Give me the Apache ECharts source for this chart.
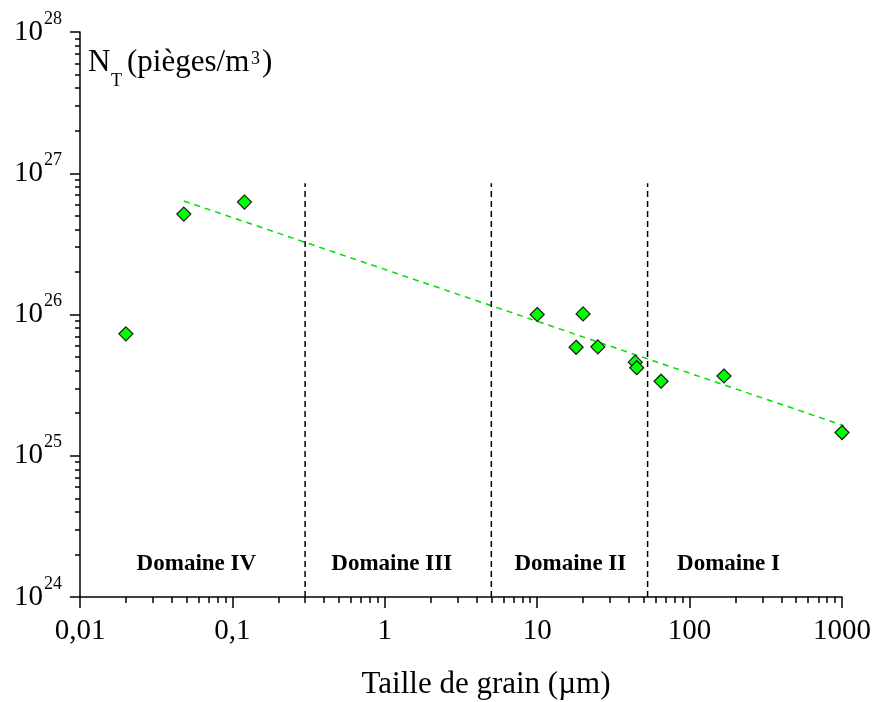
<!DOCTYPE html>
<html>
<head>
<meta charset="utf-8">
<script src="https://cdn.jsdelivr.net/npm/echarts@6/dist/echarts.min.js"></script>
<style>
  html, body { margin: 0; padding: 0; background: #fff; }
  #chart { width: 875px; height: 702px; }
</style>
</head>
<body>
<div id="chart"></div>
<script>
// grain size (µm) and trap density (traps/m3)
const grainSize = [0.02, 0.048, 0.12, 10, 20, 18, 25, 44, 45, 65, 168, 1000]
const trapDensity = [7.3e25, 5.14e26, 6.25e26, 1.0e26, 1.01e26, 5.86e25, 5.9e25, 4.6e25, 4.2e25, 3.37e25, 3.67e25, 1.46e25]
// fitted line ends
const fitX = [0.048, 1320]
const fitY = [6.36e26, 1.49e25]
// domain boundaries
const boundaryX = [0.3, 5, 53]
const boundaryY = [1e24, 8.5e26]
const domainNames = ['Domaine IV', 'Domaine III', 'Domaine II', 'Domaine I']
const domainX = [0.058, 1.11, 16.5, 180]
const domainY = 1.7e24
// ticks
const xTickExponents = [-2, -1, 0, 1, 2, 3]
const xTickLabels = ['0,01', '0,1', '1', '10', '100', '1000']
const yTickExponents = [24, 25, 26, 27, 28]
const minorSteps = [2, 3, 4, 5, 6, 7, 8, 9]

const FONT = '"Liberation Serif", "Times New Roman", serif'

function minorValues(exps) {
  let out = []
  exps.slice(0, -1).forEach(e => {
    minorSteps.forEach(s => out.push(s * Math.pow(10, e)))
  })
  return out
}

// text placed by its baseline (zrender has no alphabetic baseline)
function baseText(str, x, baseline, size, align) {
  return {
    type: 'text', x: x, y: baseline - 0.34 * size,
    style: { text: str, font: size + 'px ' + FONT, fill: '#000', align: align || 'left', verticalAlign: 'middle' }
  }
}

const axisLine = { lineStyle: { color: '#000', width: 1.5 } }
const yRange = { type: 'log', logBase: 10, min: 1e24, max: 1e28, position: 'left' }

const chart = echarts.init(document.getElementById('chart'))

let series = [
  {
    type: 'line',
    data: fitX.map((x, i) => [x, fitY[i]]),
    symbol: 'none',
    clip: false,
    lineStyle: { color: '#00dd00', width: 1.5, type: [6, 5] },
    z: 2
  },
  {
    type: 'scatter',
    data: grainSize.map((x, i) => [x, trapDensity[i]]),
    symbol: 'diamond',
    symbolSize: 14,
    itemStyle: { color: '#00ff00', borderColor: '#1a1a1a', borderWidth: 1.2, opacity: 1 },
    z: 5
  },
  {
    // domain names, anchored in data space
    type: 'scatter',
    data: domainNames.map((n, i) => ({ name: n, value: [domainX[i], domainY] })),
    symbolSize: 1,
    itemStyle: { color: 'rgba(0,0,0,0)', opacity: 1 },
    label: {
      show: true,
      position: 'inside',
      formatter: p => p.name,
      fontFamily: FONT,
      fontWeight: 'bold',
      fontSize: 23,
      color: '#000',
      textBorderWidth: 0
    },
    z: 4
  }
]
boundaryX.forEach(x => {
  series.push({
    type: 'line',
    data: boundaryY.map(y => [x, y]),
    symbol: 'none',
    lineStyle: { color: '#000', width: 1.5, type: [6, 4] },
    z: 3
  })
})

chart.setOption({
  animation: false,
  grid: { left: 80, right: 33, top: 32, bottom: 105, outerBoundsMode: 'none' },
  xAxis: [
    {
      type: 'log', logBase: 10, min: 0.01, max: 1000,
      axisLine,
      axisTick: { length: 11, lineStyle: { color: '#000', width: 1.5 } },
      splitLine: { show: false },
      axisLabel: {
        margin: 20,
        color: '#000',
        fontFamily: FONT,
        fontSize: 29,
        formatter: v => xTickLabels[xTickExponents.indexOf(Math.round(Math.log10(v)))]
      }
    },
    {
      type: 'log', logBase: 10, min: 0.01, max: 1000, position: 'bottom',
      axisLine: { show: false },
      axisTick: { length: 6, customValues: minorValues(xTickExponents), lineStyle: { color: '#000', width: 1.5 } },
      axisLabel: { show: false },
      splitLine: { show: false }
    }
  ],
  yAxis: [
    {
      ...yRange,
      axisLine,
      axisTick: { length: 10, lineStyle: { color: '#000', width: 1.5 } },
      splitLine: { show: false },
      // mantissa "10"
      axisLabel: {
        margin: 37,
        color: '#000',
        fontFamily: FONT,
        fontSize: 29,
        formatter: () => '10'
      }
    },
    {
      ...yRange,
      axisLine: { show: false },
      axisTick: { length: 5, customValues: minorValues(yTickExponents), lineStyle: { color: '#000', width: 1.5 } },
      axisLabel: { show: false },
      splitLine: { show: false }
    },
    {
      // exponents, raised as superscripts
      ...yRange,
      axisLine: { show: false },
      axisTick: { show: false },
      splitLine: { show: false },
      axisLabel: {
        margin: 18,
        color: '#000',
        fontFamily: FONT,
        fontSize: 18,
        lineHeight: 26,
        verticalAlign: 'bottom',
        formatter: v => String(yTickExponents[yTickExponents.indexOf(Math.round(Math.log10(v)))])
      }
    }
  ],
  series,
  graphic: [
    baseText('N', 88, 73, 31),
    baseText('T', 111, 87, 18),
    baseText('(pièges/m', 127, 73, 31),
    baseText('3', 251, 65, 18),
    baseText(')', 262, 73, 31),
    baseText('Taille de grain (µm)', 486, 695, 31, 'center')
  ]
})
</script>
</body>
</html>
